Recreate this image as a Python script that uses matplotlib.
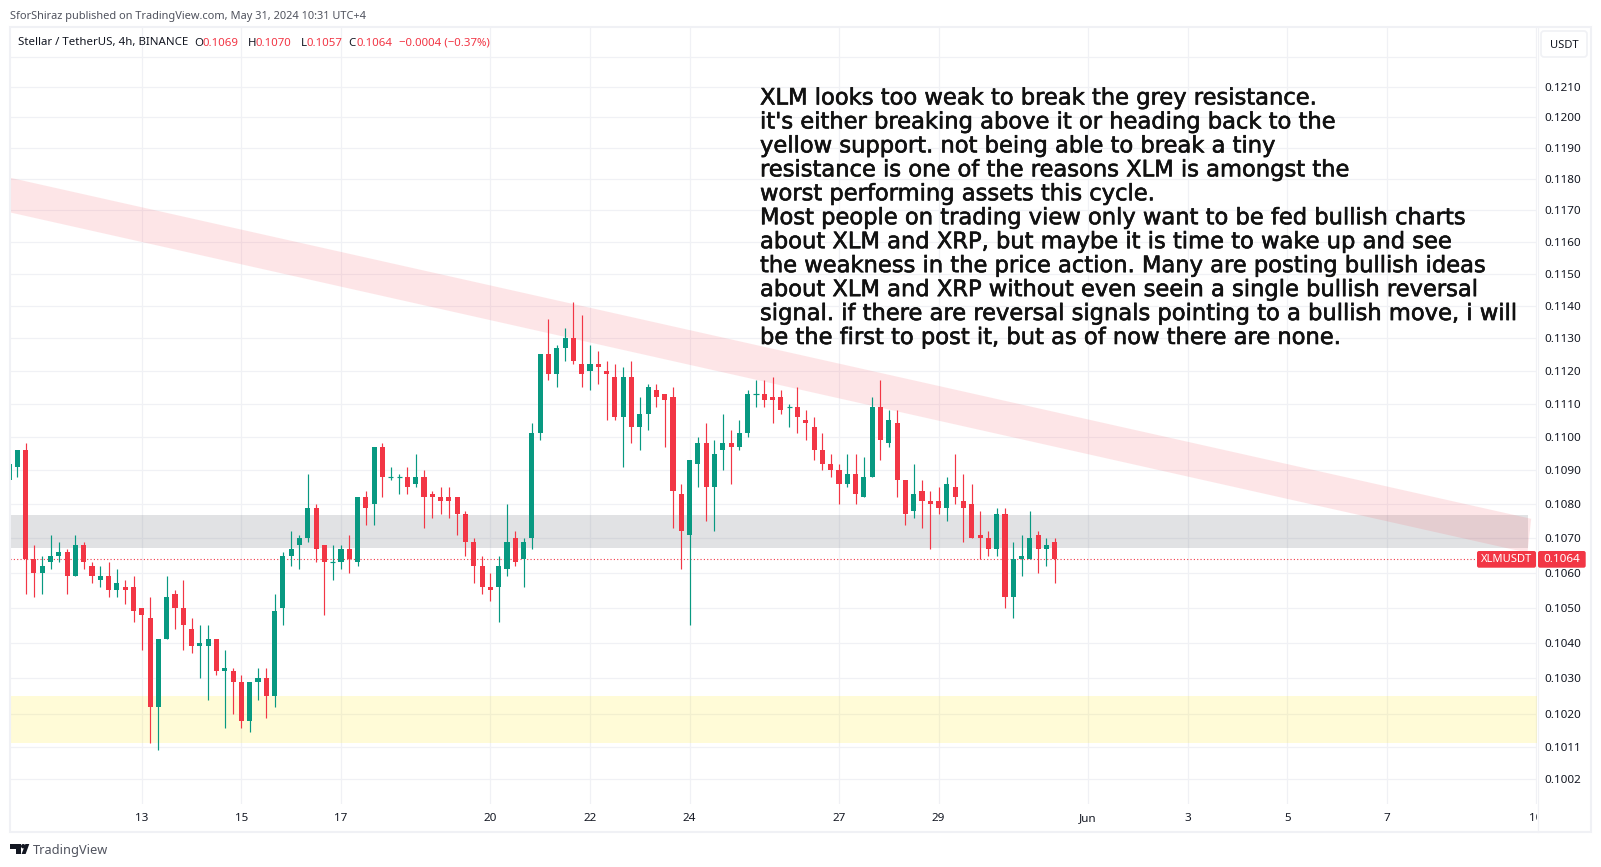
import numpy as np
import matplotlib
matplotlib.use("Agg")
import matplotlib.pyplot as plt
import matplotlib.patheffects as pe
from matplotlib.patches import Rectangle, FancyBboxPatch, Polygon, Circle
from matplotlib.ticker import NullLocator, NullFormatter, FixedLocator, FixedFormatter
from matplotlib.transforms import Bbox

opens = [.1087,.1091,.1096,.1064,.1060,.1063,.1065,.1066,.1059,.1068,
 .1062,.1058,.1059,.1055,.1056,.1056,.1050,.1047,.1022,.1041,
 .1054,.1050,.1044,.1039,.1039,.1041,.1032,.1032,.1029,.1018,
 .1029,.1030,.1025,.1050,.1065,.1068,.1070,.1079,.1068,.1063,
 .1063,.1067,.1063,.1082,.1080,.1097,.1088,.1088,.1088,.1086,
 .1088,.1083,.1082,.1082,.1082,.1077,.1069,.1062,.1056,.1056,
 .1061,.1070,.1064,.1070,.1101,.1125,.1119,.1127,.1130,.1122,
 .1120,.1122,.1120,.1118,.1106,.1118,.1103,.1107,.1114,.1113,
 .1112,.1083,.1071,.1092,.1098,.1085,.1096,.1098,.1097,.1101,
 .1113,.1113,.1112,.1112,.1109,.1109,.1105,.1103,.1096,.1092,
 .1090,.1086,.1089,.1082,.1088,.1109,.1098,.1104,.1087,.1078,
 .1084,.1081,.1081,.1079,.1085,.1081,.1080,.1071,.1070,.1067,
 .1077,.1053,.1064,.1064,.1071,.1067,.1069]
highs = [.1092,.1096,.1098,.1068,.1065,.1071,.1069,.1067,.1071,.1069,
 .1063,.1062,.1063,.1061,.1058,.1059,.1050,.1053,.1041,.1059,
 .1055,.1058,.1047,.1045,.1045,.1041,.1038,.1033,.1031,.1029,
 .1033,.1033,.1054,.1066,.1072,.1071,.1089,.1080,.1068,.1068,
 .1068,.1071,.1082,.1084,.1097,.1098,.1091,.1089,.1091,.1095,
 .1090,.1084,.1085,.1085,.1082,.1078,.1070,.1065,.1060,.1065,
 .1080,.1072,.1070,.1104,.1125,.1136,.1128,.1133,.1141,.1137,
 .1128,.1126,.1123,.1122,.1121,.1123,.1112,.1116,.1116,.1113,
 .1115,.1086,.1093,.1100,.1104,.1099,.1107,.1102,.1105,.1114,
 .1117,.1117,.1118,.1114,.1110,.1115,.1108,.1106,.1101,.1095,
 .1092,.1095,.1095,.1094,.1112,.1117,.1108,.1108,.1087,.1092,
 .1087,.1084,.1085,.1088,.1095,.1089,.1086,.1078,.1072,.1079,
 .1079,.1069,.1071,.1078,.1072,.1070,.1070]
lows = [.1087,.1088,.1054,.1053,.1054,.1061,.1063,.1054,.1059,.1061,
 .1057,.1056,.1053,.1053,.1051,.1046,.1038,.1012,.1010,.1041,
 .1044,.1038,.1037,.1030,.1024,.1031,.1016,.1020,.1016,.1015,
 .1024,.1019,.1022,.1045,.1062,.1061,.1069,.1063,.1048,.1058,
 .1061,.1060,.1062,.1074,.1074,.1082,.1087,.1083,.1083,.1085,
 .1073,.1076,.1077,.1076,.1071,.1065,.1057,.1054,.1052,.1046,
 .1059,.1062,.1056,.1067,.1099,.1117,.1115,.1123,.1122,.1115,
 .1114,.1116,.1105,.1105,.1091,.1098,.1096,.1102,.1109,.1097,
 .1073,.1061,.1045,.1085,.1075,.1072,.1090,.1086,.1096,.1100,
 .1109,.1109,.1104,.1107,.1103,.1101,.1099,.1093,.1090,.1088,
 .1080,.1085,.1080,.1082,.1088,.1093,.1097,.1082,.1074,.1076,
 .1073,.1067,.1077,.1075,.1080,.1069,.1070,.1064,.1065,.1065,
 .1050,.1047,.1059,.1064,.1060,.1062,.1057]
closes = [.1092,.1096,.1064,.1060,.1062,.1065,.1066,.1059,.1068,.1063,
 .1059,.1059,.1055,.1057,.1055,.1049,.1048,.1022,.1041,.1053,
 .1050,.1045,.1039,.1040,.1041,.1032,.1033,.1029,.1018,.1029,
 .1030,.1025,.1049,.1065,.1067,.1070,.1079,.1067,.1063,.1063,
 .1067,.1064,.1082,.1079,.1097,.1088,.1088,.1088,.1085,.1088,
 .1082,.1082,.1081,.1081,.1077,.1069,.1062,.1056,.1055,.1062,
 .1069,.1063,.1069,.1101,.1125,.1119,.1127,.1130,.1123,.1119,
 .1122,.1121,.1119,.1106,.1118,.1103,.1107,.1115,.1112,.1111,
 .1084,.1072,.1093,.1098,.1085,.1095,.1098,.1097,.1101,.1113,
 .1113,.1111,.1111,.1108,.1109,.1106,.1104,.1096,.1092,.1090,
 .1086,.1089,.1083,.1088,.1109,.1099,.1105,.1087,.1077,.1083,
 .1081,.1080,.1079,.1086,.1082,.1079,.1070,.1070,.1067,.1077,
 .1053,.1064,.1065,.1070,.1067,.1068,.1064]

price_ticks = [.1220,.1210,.1200,.1190,.1180,.1170,.1160,.1150,.1140,.1130,.1120,.1110,
               .1100,.1090,.1080,.1070,.1060,.1050,.1040,.1030,.1020,.1011,.1002]
price_labels = ["" if p > .1215 else f"{p:.4f}" for p in price_ticks]
time_ticks = [16, 28, 40, 58, 70, 82, 100, 112, 130, 142, 154, 166, 184]
time_labels = ["13", "15", "17", "20", "22", "24", "27", "29", "Jun", "3", "5", "7", "10"]

resistance_band = (.10672, .10769, 183.0)
support_band = (.10119, .1025)
trend_x = [0.0, 183.4, 182.95, 0.0]
trend_p = [.11805, .10757, .10658, .11694]
last_price = .1064

note_lines = [
 "XLM looks too weak to break the grey resistance.",
 "it's either breaking above it or heading back to the",
 "yellow support. not being able to break a tiny",
 "resistance is one of the reasons XLM is amongst the",
 "worst performing assets this cycle.",
 "Most people on trading view only want to be fed bullish charts",
 "about XLM and XRP, but maybe it is time to wake up and see",
 "the weakness in the price action. Many are posting bullish ideas",
 "about XLM and XRP without even seein a single bullish reversal",
 "signal. if there are reversal signals pointing to a bullish move, i will",
 "be the first to post it, but as of now there are none.",
]

W, H = 1601, 867
GREEN, RED = "#089981", "#f23645"
GRID = "#f0f1f5"
TXT = "#131722"
UI = "Noto Sans"

def fx(x): return x / W
def fy(y): return 1 - y / H

fig = plt.figure(figsize=(W / 100, H / 100), dpi=100, facecolor="white")
ax = fig.add_axes([fx(10), fy(804), fx(1537 - 10), (804 - 27) / H])
ax.set_yscale("log")
ax.set_xlim(0.12, 184.1)
ax.set_ylim(.09953, .12299)
for s in ax.spines.values():
    s.set_visible(False)
ax.yaxis.tick_right()
ax.yaxis.set_major_locator(FixedLocator(price_ticks))
ax.yaxis.set_major_formatter(FixedFormatter(price_labels))
ax.yaxis.set_minor_locator(NullLocator())
ax.yaxis.set_minor_formatter(NullFormatter())
ax.set_xticks(time_ticks)
ax.set_xticklabels(time_labels)
ax.tick_params(axis="both", length=0, labelcolor=TXT, labelsize=8.4)
ax.tick_params(axis="y", pad=5.6)
ax.tick_params(axis="x", pad=6.5)
for lab in ax.get_yticklabels() + ax.get_xticklabels():
    lab.set_fontfamily(UI)
ax.set_axisbelow(True)
ax.grid(True, color=GRID, lw=0.9)
for lab in ax.get_xticklabels():
    lab.set_clip_box(Bbox([[0, 0], [1537, H]]))
    lab.set_clip_on(True)

# drawings
ax.axhspan(support_band[0], support_band[1], color="#ffeb3b", alpha=0.2, lw=0, zorder=1)
ax.fill_between([0.12, resistance_band[2]], resistance_band[0], resistance_band[1],
                color="#787b86", alpha=0.22, lw=0, zorder=1)
ax.add_patch(Polygon(np.column_stack([trend_x, trend_p]), closed=True,
                     facecolor="#f7525f", alpha=0.145, lw=0, zorder=1.1))
ax.hlines(last_price, 0.12, 176.6, color=RED, lw=0.8, linestyles=(0, (1, 2)), zorder=1.5)

# candles
x = np.arange(len(opens))
o, h, l, c = map(np.array, (opens, highs, lows, closes))
colors = np.where(c >= o, GREEN, RED)
ax.vlines(x, l, h, colors=colors, lw=0.85, zorder=2)
top, bot = np.maximum(o, c), np.minimum(o, c)
ax.bar(x, top - bot, bottom=bot, width=0.62, color=colors, lw=0, zorder=3)
flat = top == bot
ax.hlines(top[flat], x[flat] - 0.31, x[flat] + 0.31, colors=colors[flat], lw=0.85, zorder=3)

# frame
fig.add_artist(Rectangle((fx(10), fy(832)), fx(1591 - 10), (832 - 27) / H, transform=fig.transFigure,
                         fill=False, edgecolor=GRID, lw=1.5))
fig.add_artist(plt.Line2D([fx(1537.5)] * 2, [fy(27), fy(832)], color=GRID, lw=0.9))

# header texts
fig.text(fx(10), fy(16), "SforShiraz published on TradingView.com, May 31, 2024 10:31 UTC+4",
         family=UI, fontsize=7.93, color="#50535e", va="center")
legend_parts = [(18, "Stellar / TetherUS, 4h, BINANCE", TXT), (194, "O", TXT), (202.5, "0.1069", RED),
                (248, "H", TXT), (256, "0.1070", RED), (301, "L", TXT), (306.5, "0.1057", RED),
                (348, "C", TXT), (356, "0.1064", RED), (399, "\u22120.0004 (\u22120.37%)", RED)]
for px, s, col in legend_parts:
    fig.text(fx(px), fy(43), s, family=UI, fontsize=8.25, color=col, va="center")

# USDT button
fig.add_artist(FancyBboxPatch((1542.5, H - 55.5), 43, 23, boxstyle="round,pad=1.5,rounding_size=3",
                              transform=None, facecolor="white", edgecolor=GRID, lw=1.2))
fig.text(fx(1564), fy(45), "USDT", family=UI, fontsize=8.05, color=TXT, ha="center", va="center")

# price labels
fig.add_artist(FancyBboxPatch((1477, H - 567.7), 59, 16.7, boxstyle="round,pad=0,rounding_size=2",
                              transform=None, facecolor=RED, edgecolor="none", zorder=5))
fig.add_artist(FancyBboxPatch((1538, H - 567.7), 47.7, 16.7, boxstyle="round,pad=0,rounding_size=2",
                              transform=None, facecolor=RED, edgecolor="none", zorder=5))
fig.text(fx(1506.5), fy(559.8), "XLMUSDT", family=UI, fontsize=8.05, color="white", ha="center", va="center",
         fontweight="semibold", zorder=6)
fig.text(fx(1562), fy(559.8), "0.1064", family=UI, fontsize=8.4, color="white", ha="center", va="center",
         fontweight="bold", zorder=6)

# note
stroke = [pe.withStroke(linewidth=0.45, foreground="#111111")]
for i, line in enumerate(note_lines):
    fig.text(fx(760), fy(98 + i * 23.95), line, family="DejaVu Sans", fontsize=16.27, color="#111111",
             va="center", ha="left", zorder=7, path_effects=stroke)

# footer logo
logo = [[(10, 844), (21, 844), (21, 854), (15.5, 854), (15.5, 848.5), (10, 848.5)],
        [(29.3, 844), (25.6, 854), (21.6, 854), (25.4, 844)]]
for pts in logo:
    fig.add_artist(Polygon([(fx(a), fy(b)) for a, b in pts], closed=True, transform=fig.transFigure,
                           facecolor="#131722", lw=0))
fig.add_artist(Circle((23.2, H - 846.2), 2.2, transform=None, facecolor="#131722", lw=0))
fig.text(fx(33), fy(850.5), "TradingView", family=UI, fontsize=9.2, color="#50535e", va="center")

fig.savefig("out.png", dpi=100, facecolor="white")
